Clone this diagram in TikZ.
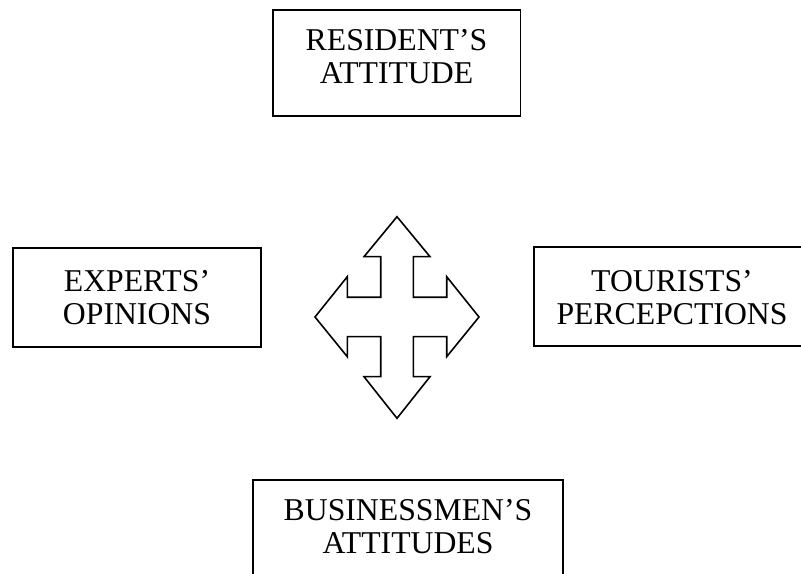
\documentclass[tikz,border=0pt]{standalone}
\usepackage{fontspec}
\setmainfont{Liberation Serif}
\usetikzlibrary{fit}
\tikzset{
  boxshape/.style={draw=black, line width=1.45pt, inner sep=0pt, outer sep=0pt},
  lbl/.style={anchor=north, align=center, inner sep=0pt,
    font=\fontsize{23.8pt}{24.6pt}\selectfont},
  crossarrow/.style={draw=black, line width=1.2pt, line join=miter, fill=white}
}
\newcommand{\firstline}{\rule{0pt}{18pt}}
\begin{document}
\begin{tikzpicture}[x=0.75pt, y=-0.75pt]
\clip (0,0) rectangle (801,574);
\fill[white] (0,0) rectangle (801,574);

% boxes
\node[boxshape, fit={(273,10) (520.5,116)}] (resident) {};
\node[boxshape, fit={(13,248) (261,347)}] (experts) {};
\node[boxshape, fit={(534,247) (812,346)}] (tourists) {};
\node[boxshape, fit={(253,480) (563,592)}] (business) {};

% texts
\node[lbl] (residentT) at (396.5,26.3) {\firstline RESIDENT’S\\ATTITUDE};
\node[lbl] (expertsT) at (137,267.5) {\firstline EXPERTS’\\OPINIONS};
\node[lbl] (touristsT) at (672,267) {\firstline TOURISTS’\\PERCEPCTIONS};
\node[lbl] (businessT) at (408,496.5) {\firstline BUSINESSMEN’S\\ATTITUDES};

% four-way arrow
\draw[crossarrow]
  (397,216.7) -- (430,256.7) -- (413.3,256.7) -- (413.3,297.3)
  -- (446.7,297.3) -- (446.7,276.7) -- (479,317) -- (446.7,356.7)
  -- (446.7,336.7) -- (413.3,336.7) -- (413.3,376.7) -- (430,376.7)
  -- (397,418.3) -- (364,376.7) -- (380.7,376.7) -- (380.7,336.7)
  -- (347.3,336.7) -- (347.3,356.7) -- (315,317) -- (347.3,276.7)
  -- (347.3,297.3) -- (380.7,297.3) -- (380.7,256.7) -- (364,256.7)
  -- cycle;
\end{tikzpicture}
\end{document}
